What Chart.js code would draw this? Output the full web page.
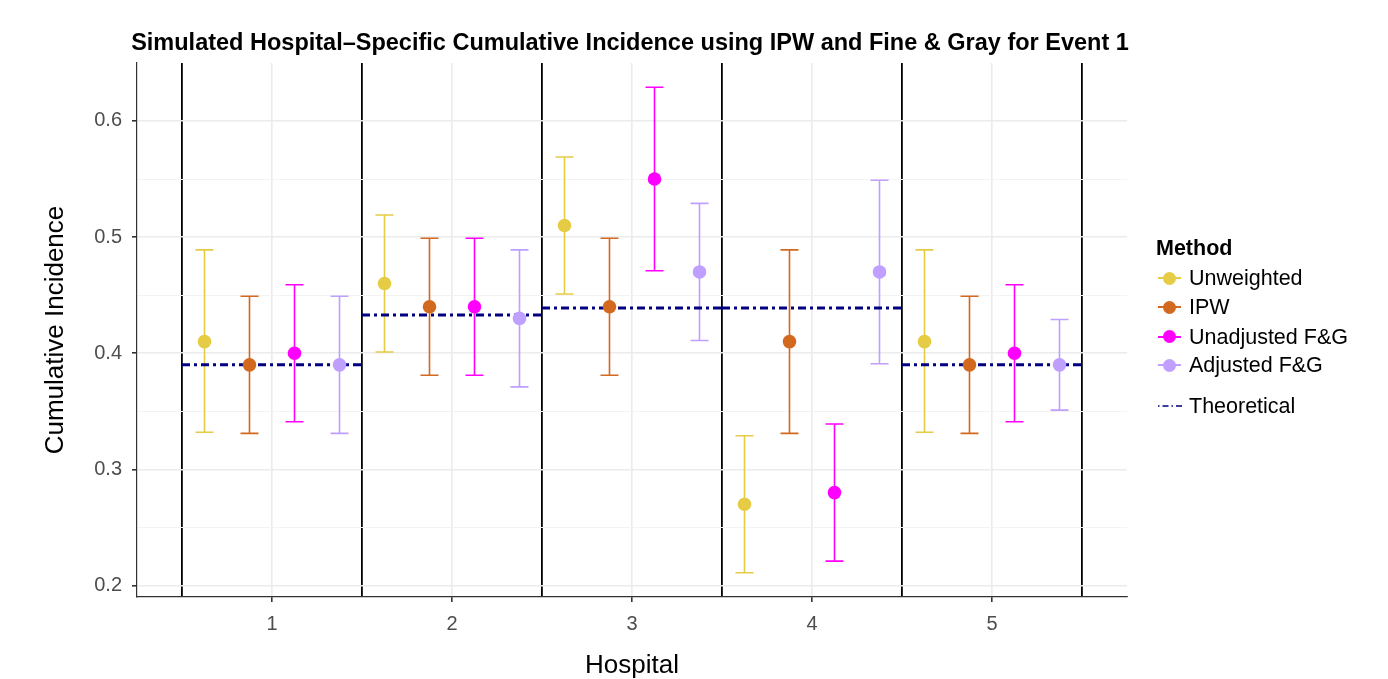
<!DOCTYPE html>
<html>
<head>
<meta charset="utf-8">
<script src="https://cdn.jsdelivr.net/npm/chart.js@4/dist/chart.umd.min.js"></script>
<style>
html,body{margin:0;padding:0;background:#fff;}
#wrap{position:relative;width:1388px;height:679px;font-family:"Liberation Sans",Arial,sans-serif;color:#000;}
#chart{position:absolute;left:0;top:0;}
#title{position:absolute;left:128px;width:1004px;top:29px;text-align:center;font-weight:bold;font-size:23.5px;line-height:26px;white-space:nowrap;}
#legend{position:absolute;left:0;top:0;}
.lg-title{position:absolute;left:1156px;font-weight:bold;font-size:21.5px;line-height:24px;white-space:nowrap;}
.lg-item{position:absolute;left:1189px;font-size:21.5px;line-height:24px;white-space:nowrap;}
.lg-line{position:absolute;left:1158px;width:23px;height:2px;}
.lg-dot{position:absolute;width:13px;height:13px;border-radius:50%;left:1163px;}
svg.lg-theo{position:absolute;left:1157px;}
</style>
</head>
<body>
<div id="wrap">
  <canvas id="chart" width="1388" height="679"></canvas>
  <div id="title">Simulated Hospital–Specific Cumulative Incidence using IPW and Fine &amp; Gray for Event 1</div>
  <div id="legend"></div>
</div>
<script>
// ---- data ----
const hospitals = [1, 2, 3, 4, 5];
const methods = ['Unweighted', 'IPW', 'Unadjusted F&G', 'Adjusted F&G'];

const unweighted      = [0.41, 0.46, 0.51, 0.27, 0.41];
const unweightedLower = [0.332, 0.401, 0.451, 0.211, 0.332];
const unweightedUpper = [0.489, 0.519, 0.569, 0.329, 0.489];

const ipw      = [0.39, 0.44, 0.44, 0.41, 0.39];
const ipwLower = [0.331, 0.381, 0.381, 0.331, 0.331];
const ipwUpper = [0.449, 0.499, 0.499, 0.489, 0.449];

const unadjustedFG      = [0.40, 0.44, 0.55, 0.28, 0.40];
const unadjustedFGLower = [0.341, 0.381, 0.471, 0.221, 0.341];
const unadjustedFGUpper = [0.459, 0.499, 0.629, 0.339, 0.459];

const adjustedFG      = [0.39, 0.43, 0.47, 0.47, 0.39];
const adjustedFGLower = [0.331, 0.371, 0.411, 0.391, 0.351];
const adjustedFGUpper = [0.449, 0.489, 0.529, 0.549, 0.429];

const theoretical = [0.39, 0.433, 0.439, 0.439, 0.39];

const yTickLabels = [0.2, 0.3, 0.4, 0.5, 0.6];

// ---- styles ----
const methodColors = ['#E5CC44', '#D2691E', '#FF00FF', '#BF9FFF'];
const theoColor = '#000080';
const dodge = [-0.375, -0.125, 0.125, 0.375];
const series = [
  {est: unweighted, lo: unweightedLower, hi: unweightedUpper},
  {est: ipw, lo: ipwLower, hi: ipwUpper},
  {est: unadjustedFG, lo: unadjustedFGLower, hi: unadjustedFGUpper},
  {est: adjustedFG, lo: adjustedFGLower, hi: adjustedFGUpper}
];

const pointSets = methods.map((m, k) => ({
  type: 'scatter',
  label: m,
  data: hospitals.map((h, i) => ({x: h + dodge[k], y: series[k].est[i]})),
  backgroundColor: methodColors[k],
  borderColor: methodColors[k],
  borderWidth: 0,
  pointRadius: 6.8,
  pointHoverRadius: 6.8,
  order: 1
}));

const theoData = [];
hospitals.forEach((h, i) => {
  theoData.push({x: h - 0.5, y: theoretical[i]});
  theoData.push({x: h + 0.5, y: theoretical[i]});
  theoData.push({x: h + 0.5, y: null});
});

const theoSet = {
  type: 'line',
  label: 'Theoretical',
  data: theoData,
  borderColor: theoColor,
  backgroundColor: theoColor,
  borderWidth: 3,
  borderDash: [8, 4, 3, 4],
  borderCapStyle: 'butt',
  pointRadius: 0,
  spanGaps: false,
  fill: false,
  tension: 0,
  order: 10
};

const errorBars = {
  id: 'errorBars',
  beforeDatasetsDraw(chart) {
    const {ctx, scales: {x, y}, chartArea} = chart;
    ctx.save();
    ctx.beginPath();
    ctx.rect(chartArea.left, chartArea.top, chartArea.right - chartArea.left, chartArea.bottom - chartArea.top);
    ctx.clip();
    ctx.lineWidth = 1.6;
    series.forEach((s, k) => {
      ctx.strokeStyle = methodColors[k];
      hospitals.forEach((h, i) => {
        const px = x.getPixelForValue(h + dodge[k]);
        const y1 = y.getPixelForValue(s.lo[i]);
        const y2 = y.getPixelForValue(s.hi[i]);
        ctx.beginPath();
        ctx.moveTo(px, y1); ctx.lineTo(px, y2);
        ctx.moveTo(px - 9, y1); ctx.lineTo(px + 9, y1);
        ctx.moveTo(px - 9, y2); ctx.lineTo(px + 9, y2);
        ctx.stroke();
      });
    });
    ctx.restore();
  }
};

const xTickValues = [];
hospitals.forEach(h => { xTickValues.push(h - 0.5); xTickValues.push(h); });
xTickValues.push(hospitals[hospitals.length - 1] + 0.5);

const yTickObjs = [];
yTickLabels.forEach((v, i) => {
  yTickObjs.push({value: v, isMajor: true});
  if (i < yTickLabels.length - 1) yTickObjs.push({value: (v + yTickLabels[i + 1]) / 2, isMajor: false});
});

const tickFont = {family: '"Liberation Sans", Arial, sans-serif', size: 20};

new Chart(document.getElementById('chart'), {
  type: 'scatter',
  data: {datasets: [...pointSets, theoSet]},
  plugins: [errorBars],
  options: {
    responsive: false,
    animation: false,
    events: [],
    layout: {padding: {top: 63, right: 261, left: 0, bottom: 0}},
    plugins: {legend: {display: false}, tooltip: {enabled: false}, title: {display: false}},
    scales: {
      x: {
        type: 'linear',
        min: 0.25,
        max: 5.75,
        afterBuildTicks: (scale) => { scale.ticks = xTickValues.map(v => ({value: v, isMajor: Number.isInteger(v)})); },
        afterFit: (scale) => { scale.height = 82; },
        ticks: {
          autoSkip: false,
          maxRotation: 0,
          padding: 10,
          color: '#4D4D4D',
          font: tickFont,
          callback: (v) => Number.isInteger(v) ? String(v) : ''
        },
        grid: {
          color: (c) => (c.tick && c.tick.isMajor) ? '#EBEBEB' : '#000000',
          lineWidth: (c) => (c.tick && c.tick.isMajor) ? 1.6 : 1.8,
          tickColor: (c) => (c.tick && c.tick.isMajor) ? '#333333' : 'rgba(0,0,0,0)',
          tickLength: 5,
          drawTicks: true
        },
        border: {display: true, color: '#333333', width: 1.2},
        title: {
          display: true,
          text: 'Hospital',
          color: '#000',
          font: {family: '"Liberation Sans", Arial, sans-serif', size: 26, lineHeight: 1.0},
          padding: {top: 0, bottom: 0}
        }
      },
      y: {
        type: 'linear',
        min: 0.1901,
        max: 0.6499,
        afterBuildTicks: (scale) => { scale.ticks = yTickObjs.map(t => ({value: t.value, isMajor: t.isMajor})); },
        afterFit: (scale) => { scale.width = 137; },
        ticks: {
          autoSkip: false,
          padding: 10,
          color: '#4D4D4D',
          font: tickFont,
          callback: (v, i, ticks) => ticks[i].isMajor ? v.toFixed(1) : ''
        },
        grid: {
          color: (c) => (c.tick && c.tick.isMajor) ? '#EBEBEB' : '#F3F3F3',
          lineWidth: (c) => (c.tick && c.tick.isMajor) ? 1.6 : 1,
          tickColor: (c) => (c.tick && c.tick.isMajor) ? '#333333' : 'rgba(0,0,0,0)',
          tickLength: 5,
          drawTicks: true
        },
        border: {display: true, color: '#333333', width: 1.2},
        title: {
          display: true,
          text: 'Cumulative Incidence',
          color: '#000',
          font: {family: '"Liberation Sans", Arial, sans-serif', size: 26},
          padding: {top: 40, bottom: 0}
        }
      }
    }
  }
});

// ---- legend (HTML text) ----
const legend = document.getElementById('legend');
const lgCenters = [278, 307, 336.5, 365];
const theoCenter = 406;
const t = document.createElement('div');
t.className = 'lg-title';
t.style.top = (248 - 12) + 'px';
t.textContent = 'Method';
legend.appendChild(t);
methods.forEach((m, k) => {
  const c = lgCenters[k];
  const line = document.createElement('div');
  line.className = 'lg-line';
  line.style.top = (c - 1) + 'px';
  line.style.background = methodColors[k];
  legend.appendChild(line);
  const dot = document.createElement('div');
  dot.className = 'lg-dot';
  dot.style.top = (c - 6.5) + 'px';
  dot.style.background = methodColors[k];
  legend.appendChild(dot);
  const txt = document.createElement('div');
  txt.className = 'lg-item';
  txt.style.top = (c - 12) + 'px';
  txt.textContent = m;
  legend.appendChild(txt);
});
const svgNS = 'http://www.w3.org/2000/svg';
const svg = document.createElementNS(svgNS, 'svg');
svg.setAttribute('class', 'lg-theo');
svg.setAttribute('width', '26');
svg.setAttribute('height', '6');
svg.style.top = (theoCenter - 3) + 'px';
const ln = document.createElementNS(svgNS, 'line');
ln.setAttribute('x1', '1'); ln.setAttribute('x2', '25');
ln.setAttribute('y1', '3'); ln.setAttribute('y2', '3');
ln.setAttribute('stroke', theoColor);
ln.setAttribute('stroke-width', '1.5');
ln.setAttribute('stroke-dasharray', '1.5 3 6 3');
svg.appendChild(ln);
legend.appendChild(svg);
const tt = document.createElement('div');
tt.className = 'lg-item';
tt.style.top = (theoCenter - 12) + 'px';
tt.textContent = 'Theoretical';
legend.appendChild(tt);
</script>
</body>
</html>
